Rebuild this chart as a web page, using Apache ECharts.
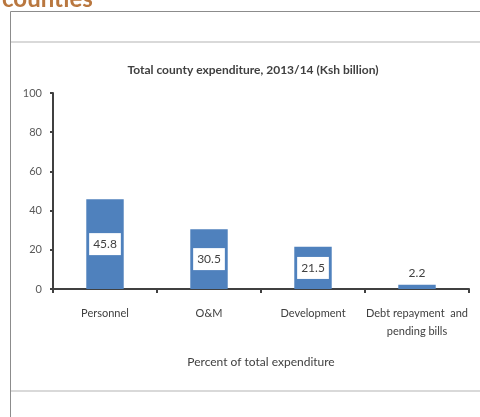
<!DOCTYPE html>
<html><head><meta charset="utf-8">
<script src="https://cdn.jsdelivr.net/npm/echarts@6/dist/echarts.min.js"></script>
<style>html,body{margin:0;padding:0;background:#fff}#c{width:480px;height:417px}</style>
</head><body><div id="c"></div>
<script>
const categories = ['Personnel', 'O&M', 'Development', 'Debt repayment  and\npending bills'];
const values = [45.8, 30.5, 21.5, 2.2];
const yTicks = [0, 20, 40, 60, 80, 100];
const titleText = 'Total county expenditure, 2013/14 (Ksh billion)';
const xAxisName = 'Percent of total expenditure';
const headingText = 'counties';

const F = 'Lato, "Open Sans", sans-serif';
const chart = echarts.init(document.getElementById('c'), null, {renderer: 'canvas'});
chart.setOption({
  animation: false,
  backgroundColor: '#fff',
  title: {
    text: titleText, left: 248, top: 59, textAlign: 'center',
    textStyle: {fontFamily: F, fontSize: 12, fontWeight: 'bold', color: '#404040'}
  },
  graphic: [
    {type: 'text', left: 2, top: -13, style: {text: headingText, font: 'bold 24px ' + F, fill: '#B9773F'}},
    {type: 'line', shape: {x1: 10.5, y1: 11.5, x2: 480, y2: 11.5}, style: {stroke: '#8c8c8c', lineWidth: 1}},
    {type: 'line', shape: {x1: 10.5, y1: 11.5, x2: 10.5, y2: 417}, style: {stroke: '#8c8c8c', lineWidth: 1}},
    {type: 'rect', shape: {x: 11, y: 41, width: 469, height: 2}, style: {fill: '#d9d9d9'}},
    {type: 'rect', shape: {x: 11, y: 390, width: 469, height: 2}, style: {fill: '#d9d9d9'}}
  ],
  grid: {left: 53, right: 11, top: 93, bottom: 128, containLabel: false},
  xAxis: {
    type: 'category', data: categories,
    name: xAxisName, nameLocation: 'middle', nameGap: 67,
    nameTextStyle: {fontFamily: F, fontSize: 12, color: '#404040'},
    axisLine: {lineStyle: {color: '#404040', width: 2}},
    axisTick: {show: true, alignWithLabel: false, length: 4, lineStyle: {color: '#404040', width: 2}},
    axisLabel: {fontFamily: F, fontSize: 11, color: '#404040', margin: 15, lineHeight: 18, interval: 0}
  },
  yAxis: {
    type: 'value', min: 0, max: 100, interval: 20,
    axisLine: {show: true, lineStyle: {color: '#404040', width: 2}},
    axisTick: {show: true, length: 3, lineStyle: {color: '#404040', width: 2}},
    splitLine: {show: false},
    axisLabel: {fontFamily: F, fontSize: 11, color: '#595959', margin: 11,
      formatter: v => yTicks.includes(v) ? String(v) : ''}
  },
  series: [{
    type: 'bar', barWidth: '36%',
    itemStyle: {color: '#4F81BD'},
    data: values.map((v, i) => ({
      value: v,
      label: i === values.length - 1 ? {position: 'top', distance: 1, backgroundColor: 'transparent'} : {position: 'inside'}
    })),
    label: {
      show: true, position: 'inside', fontFamily: F, fontSize: 12, color: '#404040',
      backgroundColor: '#fff', padding: [5, 4, 5, 4]
    }
  }]
});
</script></body></html>
